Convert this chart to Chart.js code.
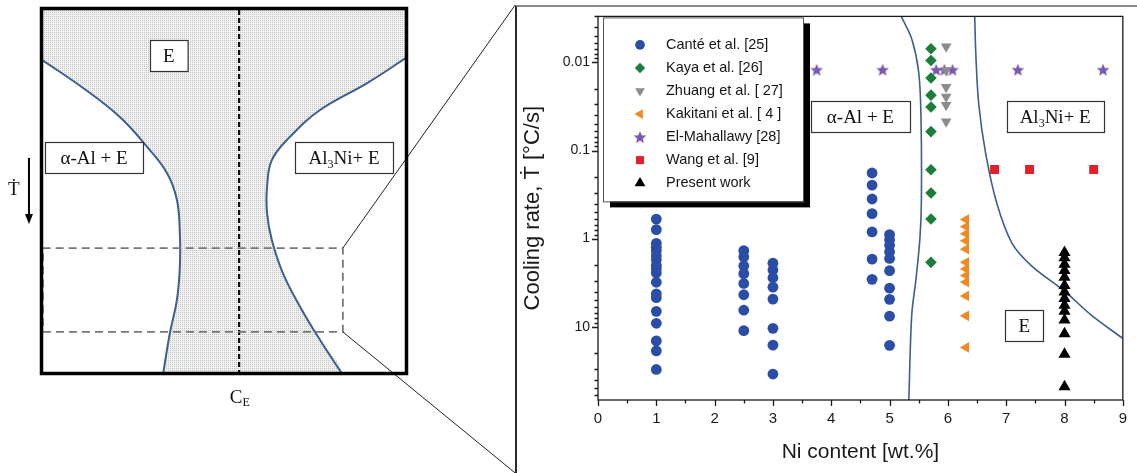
<!DOCTYPE html>
<html lang="en">
<head>
<meta charset="utf-8">
<title>Al-Ni coupled eutectic zone</title>
<script src="https://cdn.jsdelivr.net/npm/chart.js@4.4.1/dist/chart.umd.min.js"></script>
<style>
    html, body { margin: 0; padding: 0; background: #fff; }
    body { position: relative; width: 1137px; height: 473px; overflow: hidden; }
    canvas { position: absolute; top: 0; }
    #schematic { left: 0; }
    #mainChart { left: 515px; }
    #panelEdge {
        position: absolute; left: 515px; top: 5px; width: 622px; height: 468px;
        border-top: 2px solid #8c8c8c; border-left: 2px solid #2a2a2a;
        box-sizing: border-box; pointer-events: none;
    }
</style>
</head>
<body>
<canvas id="schematic" width="515" height="473"></canvas>
<canvas id="mainChart" width="622" height="473"></canvas>
<div id="panelEdge"></div>
<script>
// ---------- right panel: measured data ----------
const niTicks = [0, 1, 2, 3, 4, 5, 6, 7, 8, 9];
const rateTicks = [0.01, 0.1, 1, 10];

// Canté et al. [25] - one column of cooling rates per alloy
const canteNi = [1, 2.5, 3, 4.7, 5];
const canteRates = [
    [0.6, 0.79, 1.13, 1.25, 1.37, 1.57, 1.74, 2.01, 2.19, 2.45, 3.13, 4.24, 4.69, 6.7, 9.15, 14.5, 18.8, 30.6],
    [1.37, 1.62, 2.04, 2.5, 3.23, 4.34, 6.5, 11.1],
    [1.9, 2.27, 2.78, 3.56, 4.86, 10.45, 16.2, 34.5],
    [0.18, 0.247, 0.355, 0.52, 0.84, 1.71, 2.9],
    [0.9, 1.03, 1.19, 1.41, 1.68, 2.31, 3.65, 4.89, 7.6, 16.3]
];
const kayaNi = 5.71;
const kayaRates = [0.007, 0.0095, 0.015, 0.0235, 0.032, 0.061, 0.165, 0.303, 0.6, 1.86];
const zhuangNi = 5.97;
const zhuangRates = [0.0066, 0.0123, 0.019, 0.0245, 0.0304, 0.047];
const kakitaniNi = 6.31;
const kakitaniRates = [0.607, 0.733, 0.879, 1.06, 1.32, 1.86, 2.21, 2.63, 3.12, 4.48, 7.52, 17.2];
const mahallawyNi = [3.75, 4.88, 5.8, 5.94, 6.08, 7.2, 8.66];
const mahallawyRate = 0.0121;
const wangNi = [6.8, 7.4, 8.5];
const wangRate = 0.164;
const presentNi = 8;
const presentRates = [1.44, 1.65, 1.95, 2.3, 2.75, 3.4, 4.05, 4.8, 5.7, 6.7, 8.4, 12, 20.5, 48];

// coupled zone boundaries
const alphaEdgeNi = [5.2, 5.38, 5.5, 5.54, 5.545, 5.52, 5.45, 5.38, 5.33];
const alphaEdgeRate = [0.003, 0.0054, 0.013, 0.047, 0.4, 1, 3, 7.4, 68];
const al3niEdgeNi = [6.46, 6.48, 6.53, 6.65, 6.84, 7.1, 7.44, 7.99, 8.47, 9.0];
const al3niEdgeRate = [0.003, 0.0083, 0.03, 0.11, 0.4, 1.13, 2.05, 3.9, 7.5, 13.6];

// ---------- left panel: schematic (0..100 units inside the box) ----------
const schemLeftX = [0, 11.7, 21.7, 29.1, 34.5, 37.2, 38.0, 38.0, 37.2, 35.3, 33.4];
const schemLeftY = [86, 78.0, 70.1, 62.0, 54.9, 47.6, 38.6, 29.3, 20.4, 11.4, 0];
const schemRightX = [100, 88.9, 76.1, 67.9, 63.0, 61.7, 61.7, 63.0, 66.0, 70.7, 76.1, 82.3];
const schemRightY = [86.5, 79.3, 72.0, 64.7, 58.4, 51.1, 44.0, 36.7, 27.7, 18.5, 9.5, 0];
const eutecticCE = 54.1;
const zoomBoxX = [0.8, 82.3];
const zoomBoxY = [11.7, 34.5];

const SERIF = '"Liberation Serif", "Times New Roman", "DejaVu Serif", serif';
const SANS = '"Liberation Sans", Arial, Helvetica, sans-serif';
const curveBlue = '#3d5f8c';

function pts(xs, ys) {
    return xs.map((x, i) => ({ x: x, y: ys[i] }));
}

function column(x, ys) {
    return ys.map(y => ({ x: x, y: y }));
}

// filled five point star used as a point style
function starImage(color, r) {
    const c = document.createElement('canvas');
    const s = Math.ceil(r * 2 + 2);
    c.width = s;
    c.height = s;
    const g = c.getContext('2d');
    g.fillStyle = color;
    g.beginPath();
    for (let i = 0; i < 10; i++) {
        const rad = i % 2 ? r * 0.45 : r;
        const a = -Math.PI / 2 + i * Math.PI / 5;
        g.lineTo(s / 2 + rad * Math.cos(a), s / 2 + 0.6 + rad * Math.sin(a));
    }
    g.closePath();
    g.fill();
    return c;
}

// boxed serif label, runs like [{t: 'Al'}, {t: '3', sub: true}]
function drawLabelBox(ctx, cx, cy, runs, opts) {
    const size = opts.size || 19;
    const pad = opts.pad || 14;
    const h = opts.h || 31;
    ctx.save();
    let w = 0;
    runs.forEach(r => {
        ctx.font = (r.sub ? Math.round(size * 0.65) : size) + 'px ' + SERIF;
        r.w = ctx.measureText(r.t).width;
        w += r.w;
    });
    const bw = opts.w || (w + pad * 2);
    const left = Math.round(cx - bw / 2) + 0.5;
    const top = Math.round(cy - h / 2) + 0.5;
    ctx.fillStyle = '#fff';
    ctx.fillRect(left, top, bw, h);
    ctx.strokeStyle = '#333';
    ctx.lineWidth = 1.2;
    ctx.strokeRect(left, top, bw, h);
    ctx.fillStyle = '#111';
    ctx.textBaseline = 'alphabetic';
    let x = cx - w / 2;
    const base = cy + size * 0.34;
    runs.forEach(r => {
        ctx.font = (r.sub ? Math.round(size * 0.65) : size) + 'px ' + SERIF;
        ctx.fillText(r.t, x, r.sub ? base + size * 0.22 : base);
        x += r.w;
    });
    ctx.restore();
}

// ======================= left schematic =======================
function stipple() {
    const c = document.createElement('canvas');
    c.width = 2;
    c.height = 2;
    const g = c.getContext('2d');
    g.fillStyle = '#f1f1f1';
    g.fillRect(0, 0, 2, 2);
    g.fillStyle = '#c4c4c4';
    g.fillRect(0, 0, 1, 1);
    return g.createPattern(c, 'repeat');
}

const schematicDecor = {
    id: 'schematicDecor',
    beforeDatasetsDraw(chart) {
        const { ctx, chartArea: a } = chart;
        ctx.save();
        ctx.fillStyle = stipple();
        ctx.fillRect(a.left, a.top, a.right - a.left, a.bottom - a.top);
        ctx.restore();
    },
    afterDatasetsDraw(chart) {
        const { ctx, chartArea: a, scales: { x, y } } = chart;
        ctx.save();
        ctx.strokeStyle = '#000';
        ctx.lineWidth = 3.5;
        ctx.strokeRect(a.left + 1.5, a.top + 1.5, a.right - a.left - 3, a.bottom - a.top - 3);

        drawLabelBox(ctx, x.getPixelForValue(35.0), y.getPixelForValue(86.7), [{ t: 'E' }], { pad: 13 });
        drawLabelBox(ctx, x.getPixelForValue(14.7), y.getPixelForValue(59.1), [{ t: 'α-Al + E' }], { w: 98 });
        drawLabelBox(ctx, x.getPixelForValue(82.6), y.getPixelForValue(59.1),
            [{ t: 'Al' }, { t: '3', sub: true }, { t: 'Ni+ E' }], { w: 98 });

        // cooling-rate arrow
        const ax = x.getPixelForValue(-3.0);
        const ay0 = y.getPixelForValue(59.0);
        const ay1 = y.getPixelForValue(41.3);
        ctx.strokeStyle = '#000';
        ctx.lineWidth = 2;
        ctx.beginPath();
        ctx.moveTo(ax, ay0);
        ctx.lineTo(ax, ay1 - 8);
        ctx.stroke();
        ctx.fillStyle = '#000';
        ctx.beginPath();
        ctx.moveTo(ax - 4, ay1 - 9);
        ctx.lineTo(ax + 4, ay1 - 9);
        ctx.lineTo(ax, ay1 + 1);
        ctx.closePath();
        ctx.fill();

        ctx.fillStyle = '#111';
        ctx.textAlign = 'center';
        ctx.textBaseline = 'middle';
        ctx.font = '19px ' + SERIF;
        ctx.fillText('\u1E6A', x.getPixelForValue(-7.1), y.getPixelForValue(50.3));

        // C_E under the box
        const cx = x.getPixelForValue(eutecticCE);
        const cy = y.getPixelForValue(-6.2);
        ctx.fillText('C', cx - 3, cy);
        ctx.font = '12px ' + SERIF;
        ctx.fillText('E', cx + 7, cy + 5);
        ctx.restore();
    }
};

new Chart(document.getElementById('schematic'), {
    type: 'line',
    data: {
        datasets: [
            {
                // connector lines to the enlarged panel
                data: [{ x: 129.1, y: 100.5 }, { x: zoomBoxX[1], y: zoomBoxY[1] }, { x: NaN, y: NaN },
                       { x: zoomBoxX[1], y: zoomBoxY[0] }, { x: 129.1, y: -26.6 }],
                borderColor: '#222', borderWidth: 1, pointRadius: 0, tension: 0, clip: false, spanGaps: false
            },
            {
                data: [{ x: zoomBoxX[0], y: zoomBoxY[0] }, { x: zoomBoxX[1], y: zoomBoxY[0] },
                       { x: zoomBoxX[1], y: zoomBoxY[1] }, { x: zoomBoxX[0], y: zoomBoxY[1] },
                       { x: zoomBoxX[0], y: zoomBoxY[0] }],
                borderColor: '#777', borderWidth: 1.8, borderDash: [8, 5], pointRadius: 0, tension: 0
            },
            {
                data: [{ x: eutecticCE, y: 0 }, { x: eutecticCE, y: 100 }],
                borderColor: '#000', borderWidth: 2.2, borderDash: [5, 3], pointRadius: 0, tension: 0
            },
            {
                data: pts(schemLeftX, schemLeftY),
                borderColor: curveBlue, borderWidth: 2, pointRadius: 0, tension: 0.4
            },
            {
                data: pts(schemRightX, schemRightY),
                borderColor: curveBlue, borderWidth: 2, pointRadius: 0, tension: 0.4
            },
            {
                // white alpha-Al + E region
                data: pts(schemLeftX, schemLeftY).concat([{ x: 33.4, y: -30 }, { x: -30, y: -30 }, { x: -30, y: 86 }]),
                borderWidth: 0, borderColor: 'rgba(0,0,0,0)', backgroundColor: '#fff',
                fill: 'shape', pointRadius: 0, tension: 0.4
            },
            {
                // white Al3Ni + E region
                data: pts(schemRightX, schemRightY).concat([{ x: 82.3, y: -30 }, { x: 130, y: -30 }, { x: 130, y: 86.5 }]),
                borderWidth: 0, borderColor: 'rgba(0,0,0,0)', backgroundColor: '#fff',
                fill: 'shape', pointRadius: 0, tension: 0.4
            }
        ]
    },
    options: {
        responsive: false,
        animation: false,
        events: [],
        layout: { padding: { left: 40, top: 7, right: 107, bottom: 98 } },
        scales: {
            x: { type: 'linear', min: 0, max: 100, display: false },
            y: { type: 'linear', min: 0, max: 100, display: false }
        },
        plugins: { legend: { display: false }, tooltip: { enabled: false } }
    },
    plugins: [schematicDecor]
});

// ======================= right chart =======================
const frameAndTicks = {
    id: 'frameAndTicks',
    afterDatasetsDraw(chart) {
        const { ctx, chartArea: a, scales: { x, y } } = chart;
        ctx.save();
        ctx.strokeStyle = '#1a1a1a';
        ctx.lineWidth = 1.3;
        ctx.strokeRect(a.left, a.top, a.right - a.left, a.bottom - a.top);
        ctx.beginPath();
        for (let v = x.min; v <= x.max + 1e-9; v += 0.5) {
            const px = Math.round(x.getPixelForValue(v)) + 0.5;
            const len = Number.isInteger(v) ? 6 : 3.5;
            ctx.moveTo(px, a.bottom);
            ctx.lineTo(px, a.bottom + len);
        }
        for (let d = -3; d <= 1; d++) {
            for (let m = 1; m <= 9; m++) {
                const v = m * Math.pow(10, d);
                if (v < y.min || v > y.max) continue;
                const py = Math.round(y.getPixelForValue(v)) + 0.5;
                const len = m === 1 ? 6 : 3.5;
                ctx.moveTo(a.left - len, py);
                ctx.lineTo(a.left, py);
            }
        }
        ctx.stroke();

        drawLabelBox(ctx, x.getPixelForValue(4.5), y.getPixelForValue(0.041), [{ t: 'α-Al + E' }], { w: 99 });
        drawLabelBox(ctx, x.getPixelForValue(7.84), y.getPixelForValue(0.041),
            [{ t: 'Al' }, { t: '3', sub: true }, { t: 'Ni+ E' }], { w: 97 });
        drawLabelBox(ctx, x.getPixelForValue(7.31), y.getPixelForValue(9.8), [{ t: 'E' }], { w: 38 });
        ctx.restore();
    }
};

const boxedLegend = {
    id: 'boxedLegend',
    afterDraw(chart) {
        const { ctx, chartArea: a } = chart;
        const left = a.left + 5, top = a.top + 1, w = 200, h = 184;
        ctx.save();
        ctx.fillStyle = '#000';
        ctx.fillRect(left + 7, top + 6, w, h);
        ctx.fillStyle = '#fff';
        ctx.fillRect(left, top, w, h);
        ctx.strokeStyle = '#555';
        ctx.lineWidth = 1;
        ctx.strokeRect(left + 0.5, top + 0.5, w, h);
        ctx.font = '14.5px ' + SANS;
        ctx.textBaseline = 'middle';
        chart.data.datasets.filter(ds => ds.label).forEach((ds, i) => {
            const rowY = top + 27.5 + i * 23.05;
            ctx.fillStyle = ds.pointBackgroundColor;
            Chart.helpers.drawPoint(ctx, {
                pointStyle: ds.pointStyle,
                rotation: ds.pointRotation || 0,
                radius: ds.pointRadius * 0.9,
                borderWidth: 0
            }, left + 37, rowY);
            ctx.fillStyle = '#151515';
            ctx.fillText(ds.label, left + 63, rowY);
        });
        ctx.restore();
    }
};

function markers(label, data, color, style, radius, rotation) {
    return {
        label: label,
        data: data,
        showLine: false,
        pointStyle: style,
        pointRadius: radius,
        pointRotation: rotation || 0,
        pointBackgroundColor: color,
        pointBorderColor: color,
        pointBorderWidth: 0,
        borderColor: color,
        backgroundColor: color
    };
}

const canteData = [];
canteNi.forEach((ni, i) => canteData.push(...column(ni, canteRates[i])));

new Chart(document.getElementById('mainChart'), {
    type: 'line',
    data: {
        datasets: [
            markers('Canté et al. [25]', canteData, '#2a4ea6', 'circle', 5.4),
            markers('Kaya et al. [26]', column(kayaNi, kayaRates), '#1b7f3b', 'rectRot', 5.8),
            markers('Zhuang et al. [ 27]', column(zhuangNi, zhuangRates), '#8c8c8c', 'triangle', 6.2, 180),
            markers('Kakitani et al. [ 4 ]', column(kakitaniNi, kakitaniRates), '#f28a24', 'triangle', 6.2, -90),
            markers('El-Mahallawy [28]', mahallawyNi.map(n => ({ x: n, y: mahallawyRate })), '#7b58b3',
                starImage('#7b58b3', 6.6), 6.6),
            markers('Wang et al. [9]', wangNi.map(n => ({ x: n, y: wangRate })), '#e51f2a', 'rect', 6.3),
            markers('Present work', column(presentNi, presentRates), '#000', 'triangle', 7),
            {
                data: pts(alphaEdgeNi, alphaEdgeRate),
                borderColor: curveBlue, borderWidth: 1.6, pointRadius: 0, tension: 0.35, fill: false
            },
            {
                data: pts(al3niEdgeNi, al3niEdgeRate),
                borderColor: curveBlue, borderWidth: 1.6, pointRadius: 0, tension: 0.35, fill: false
            }
        ]
    },
    options: {
        responsive: false,
        animation: false,
        events: [],
        layout: { padding: { left: 0, top: 12, right: 13, bottom: 0 } },
        scales: {
            x: {
                type: 'linear',
                min: 0,
                max: 9,
                afterBuildTicks: s => { s.ticks = niTicks.map(v => ({ value: v })); },
                afterFit: s => { s.height = 73; },
                grid: { display: false, drawTicks: false },
                border: { display: false },
                ticks: { autoSkip: false, maxRotation: 0, padding: 10, color: '#1a1a1a', font: { family: SANS, size: 15 } },
                title: {
                    display: true,
                    text: 'Ni content [wt.%]',
                    color: '#1a1a1a',
                    font: { family: SANS, size: 21 },
                    padding: { top: 0, bottom: 8 }
                }
            },
            y: {
                type: 'logarithmic',
                reverse: true,
                min: 0.003,
                max: 68,
                afterBuildTicks: s => { s.ticks = rateTicks.map(v => ({ value: v })); },
                afterFit: s => { s.width = 83; },
                grid: { display: false, drawTicks: false },
                border: { display: false },
                ticks: {
                    autoSkip: false,
                    padding: 8,
                    color: '#1a1a1a',
                    font: { family: SANS, size: 14 },
                    callback: v => String(v)
                },
                title: {
                    display: true,
                    text: 'Cooling rate, \u1E6A [°C/s]',
                    color: '#1a1a1a',
                    font: { family: SANS, size: 22 },
                    padding: { top: 5, bottom: 0 }
                }
            }
        },
        plugins: { legend: { display: false }, tooltip: { enabled: false } }
    },
    plugins: [frameAndTicks, boxedLegend]
});
</script>
</body>
</html>
